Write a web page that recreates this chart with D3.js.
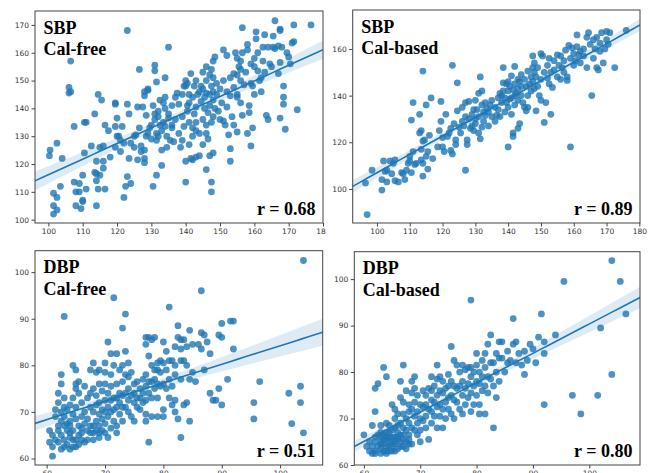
<!DOCTYPE html>
<html>
<head>
<meta charset="utf-8">
<script src="https://cdn.jsdelivr.net/npm/d3@7"></script>
<style>
  body { margin: 0; background: #fff; }
  svg { display: block; }
  .tick text { font-family: "DejaVu Sans", sans-serif; font-size: 7.5px; fill: #333; }
  .tick line { stroke: #444; }
  .label { font-family: "Liberation Serif", "Times New Roman", serif; font-weight: bold; font-size: 18px; fill: #000; }
</style>
</head>
<body>
<div id="chart"></div>
<script>
/**
 * DATA (reference BP on x, estimated BP on y)
 * */
const sbpFree = [
  [100.5,125],[100.3,123],[102.5,127.5],[101.5,109.5],[101.5,105],[101.5,102],[102.5,103.5],[102.5,108],[103.5,112],[104,122],
  [106,147.5],[106,145.5],[106.5,146],[106.5,157],[107.5,133.5],[107.5,113.5],[108,110],[108,105],[109,113],[109,110],
  [109.5,104],[110,107],[110,106.5],[110,116],[110.5,135],[111,135],[110.5,124],[111,111],[112.5,126.5],[113.5,138],
  [113.5,117],[114,114],[114,116.5],[114,121],[114,105],[114.5,145],[114.5,111],[115,116],[115,126],[115.5,143],
  [116,126.5],[116,121],[116,118.5],[116.5,111],[116.5,134],[117.5,132],[118,122.5],[119.5,142],[119.5,141.5],[119.5,126],
  [119.5,133.5],[120,136.5],[120,130],[120.5,130],[121,124.5],[121,128.5],[121.5,133.5],[122,108],[122,127.5],[122.5,112],
  [123,168],[123,141.5],[123,115.5],[123.5,138],[123.5,122],[124,127.5],[124,113],[125,130],[125,126],[125.5,130.5],
  [126,121.5],[126,140.5],[126.5,154],[126.5,133],[127,126.5],[127,124.5],[127.5,140.5],[128,144.5],[128,146],[128,122],
  [128,120.5],[128,125],[128.5,130],[128.5,137.5],[129,146.5],[129,131],[129,147],[129.5,133],[130,134],[130,129],
  [130.5,112],[130.5,141],[131,155.5],[131,153.5],[131,138],[131,136],[131.5,149.5],[131.5,116],[131.5,128.5],[131.5,131],
  [132,139],[132,137],[132,130],[132.5,143],[132.5,134],[133,119.5],[133,125],[133,132],[133.5,142],[133.5,135],
  [134,151],[134,144],[134,140],[134,133.5],[134.5,130],[134.5,126],[135,162],[135,138],[135,136.5],[135.5,128.5],
  [136,141],[136,133],[136,134],[136.5,128],[137,144],[137,136],[137.5,145.5],[138,141.5],[138,131],[138.5,126],
  [139,145],[139,137],[139,128.5],[139.5,148],[139.5,133.5],[140,150],[140,148],[140,121],[140,113.5],[140.5,149],
  [140.5,141],[140.5,139],[141,145],[141,142],[141,135],[141,127],[141.5,152.5],[141.5,122],[142,144],[142,133],
  [142,130],[142,121.5],[142.5,148],[142.5,138],[143,150],[143,140.5],[143,135],[143,132],[143,122.5],[143.5,145],
  [144,146],[144,131],[144,123],[144.5,148],[144.5,142.5],[145,153],[145,147],[145,136],[145,127],[145.5,144],
  [145.5,140],[146,155],[146,150],[146,145.5],[146,134],[146,131],[146,118],[146.5,138.5],[146.5,129],[147,152],
  [147,145],[147,141],[147,123],[147.5,154],[147.5,148],[147.5,135],[147.5,113.5],[147.5,110],[148,157],[148,151],
  [148,146],[148,143],[148,137],[148,124],[148.5,158.5],[148.5,140],[149,149],[149,145],[149.5,139],[150,147],
  [150,136],[150.5,142],[151,161],[151,135.5],[151.5,134],[152,146],[152,140.5],[152.5,130.5],[153,144.5],[153,125.5],
  [153,121],[153.5,137],[154,147.5],[154,134],[154.5,160],[155,158],[155,152],[155,145],[155,131.5],[155.5,155],
  [156,157],[156,154],[156,150],[156,142],[156.5,169],[156.5,160],[156.5,137.5],[157,148.5],[157.5,153],[158,163],
  [158,161],[158,131],[158.5,141],[158.5,138.5],[159,126.5],[159,149],[159,156],[159.5,133],[159.5,148],[160,158],
  [160,155],[160,145],[160.5,165],[160.5,167.5],[161,160],[161,153.5],[161.5,150],[162,151],[162,146],[162.5,162],
  [162.5,157],[163,166.5],[163,153],[163.5,137.5],[164,136],[164,162],[164.5,156],[165,155],[165.5,166],[165.5,162],
  [166,171.5],[166,161.5],[167,162.5],[167,152.5],[167.5,168.5],[167.5,168],[167.5,156.5],[167.5,136.5],[168,162],[168.5,148],
  [168.5,144],[168.5,141.5],[169,132.5],[169.5,160],[170,158.5],[170.5,156],[171,163.5],[171.5,164],[171.5,170],[172.5,139.5],
  [176.5,170],[152,159],[151,150],[153,151],[154,152.5],[155,144]
];

const sbpBased = [
  [97,89],[96.5,102.5],[98.5,108],[101.5,99.5],[101.5,104],[102,112],[102.5,107.5],[103,103],[103,108],[104,112],
  [104.5,106.5],[105,111],[105.5,103.5],[105.5,112.5],[106.5,103],[107.5,107],[108,106.5],[108.5,104],[109,108],[109.5,111],
  [110,114],[110,112],[110.5,107],[110.5,129.5],[111,137],[111,116],[111.5,110.5],[112,111],[113,124],[113,132],
  [113.5,125],[113.5,117],[113.5,112.5],[114,150.5],[114,120.5],[114,111],[114,105.5],[114.5,121],[115,136],[115,114],
  [115.5,108.5],[115.5,116],[116,123],[116.5,139],[117,113],[118.5,118],[119,125],[119.5,129],[119.5,137.5],[120,122],
  [120,118],[120.5,116],[121,132],[121.5,122.5],[122,124],[122.5,126],[122.5,116.5],[123,153],[123,115],[123.5,128],
  [124,121],[124,119],[124.5,133.5],[124.5,145.5],[125,126.5],[125.5,124],[126,129],[126,135],[126.5,127],[127,137],
  [127,131],[127,108],[127.5,121],[127.5,119],[128,137.5],[128,130],[128.5,126],[129,132],[129,127],[129.5,134],
  [129.5,125],[130,138],[130,130],[130,128],[130.5,134],[131,141],[131,131],[131,124],[131.5,148],[131.5,121.5],
  [132,142],[132,136],[132,126.5],[132.5,133],[132.5,129],[133,137],[133,131.5],[133.5,134.5],[134,133],[134,127],
  [134.5,136],[135,131],[135,138],[136,135],[136,129],[136.5,131.5],[137,139],[137,134],[137.5,141],[137.5,131],
  [138,140],[138,137],[138.5,145.5],[138.5,142],[138.5,152],[139,139],[139,133],[139.5,145],[139.5,137],[140,146],
  [140,142],[140,135],[140,118],[140.5,144],[140.5,138.5],[141,148.5],[141,139],[141,132],[141.5,142.5],[141.5,124],
  [141.5,122.5],[142,152.5],[142,145],[142,140],[142,136],[142.5,141],[143,147],[143,143],[143,138],[143,126],
  [143.5,146],[143.5,128],[144,149],[144,144],[144,140],[144.5,137],[145,147],[145,135],[145.5,144],[145.5,133.5],
  [146,150.5],[146,140],[146,135],[146.5,145],[147,148],[147,142],[147.5,157],[147.5,152],[147.5,146],[148,154],
  [148,150],[148,143],[148.5,148],[148.5,133.5],[149,152],[149,144],[149.5,140],[150,158],[150,147],[150,138],
  [150.5,157],[151,150],[151,128.5],[151.5,137],[152,153],[152,147.5],[152.5,156],[152.5,145],[153,132],[153,150],
  [153.5,143.5],[154,151],[154,155],[155,157.5],[155,148],[155.5,153],[156,147],[156,157],[156.5,152],[157,150],
  [157,155],[157.5,159.5],[158,148],[158,146.5],[158.5,161.5],[159,118],[159,156],[159.5,160.5],[160,158],[160,153],
  [160.5,155],[161,166],[161,161],[161.5,157.5],[162,154],[162,159],[163,160],[163,157],[164,165],[164,152],
  [164.5,167],[165,162],[165.5,140],[166,156],[166,164],[166.5,160],[167,165],[167,152],[167.5,151],[168,162.5],
  [168,159],[168.5,167],[169,154],[169.5,160],[170,164],[170,167.5],[170.5,162],[171,167],[172.5,152],[176,168]
];

const dbpFree = [
  [60.5,66],[60.5,63.5],[61,62.5],[61,60.5],[61.5,69],[61.5,70.5],[62,74],[62,66],[62,63.5],[62.5,78],
  [62.5,76],[62.5,70],[62.5,68],[62.5,65],[63,90.5],[63,73],[63,71],[63,69],[63,62.5],[63.5,66],
  [63.5,67.5],[63.5,70.5],[64,71.5],[64,68],[64,65.5],[64,64.5],[64.5,73],[64.5,69.5],[64.5,66],[64.5,80],
  [64.5,64],[65,79],[65,76],[65,75],[65,71],[65,68.5],[65,62.5],[65.5,76.5],[65.5,74],[65.5,67],
  [65.5,65],[66,72],[66,69],[66,66.5],[66,64],[66.5,75.5],[66.5,70],[66.5,63.5],[67,73],[67,68.5],
  [67,66],[67.5,79],[67.5,71],[67.5,65.5],[67.5,74],[68,80.5],[68,75],[68,70],[68,67],[68,65.5],
  [68.5,78.5],[68.5,73.5],[68.5,71.5],[68.5,68],[69,79],[69,76],[69,72],[69,69.5],[69,67],[69,64.5],
  [69.5,74.5],[69.5,70.5],[69.5,68.5],[69.5,66],[70,80.5],[70,78.5],[70,76],[70,72.5],[70,70],[70,67.5],
  [70,65.5],[70.5,85],[70.5,74],[70.5,71],[70.5,69],[70.5,64.5],[71,82.5],[71,78],[71,75.5],[71,72.5],
  [71,70],[71,66.5],[71.5,94.5],[71.5,80],[71.5,73],[71.5,70.5],[71.5,68],[72,82.5],[72,76],[72,73],
  [72,71],[72,67],[72,65.5],[72.5,79],[72.5,74],[72.5,72],[72.5,69.5],[73,88],[73,80],[73,76.5],
  [73,73.5],[73,71],[73,68],[73.5,91],[73.5,83],[73.5,78],[73.5,74],[73.5,71],[74,80.5],[74,77.5],
  [74,75],[74,72.5],[74,70],[74.5,78.5],[74.5,73.5],[74.5,69],[75,76],[75,74],[75,72],[75,68],
  [75.5,76.5],[75.5,73],[75.5,71],[76,75],[76,73],[76,70.5],[76.5,77],[76.5,74],[76.5,72],[77,86],
  [77,84.5],[77,78],[77,75.5],[77,72.5],[77,69.5],[77,68],[77.5,86],[77.5,82],[77.5,76.5],[77.5,74],
  [77.5,63.5],[78,85.5],[78,80],[78,76.5],[78,73],[78,69],[78.5,86],[78.5,79],[78.5,77],[78.5,75],
  [79,80.5],[79,79],[79,76],[79,73],[79,69],[79.5,81],[79.5,78.5],[79.5,75.5],[80,85],[80,80.5],
  [80,76],[80,70.5],[80,69],[80.5,83],[80.5,79],[80.5,75],[81,92.5],[81,81],[81,77],[81,73],
  [81.5,81],[81.5,75.5],[81.5,71.5],[82,84],[82,80],[82,78],[82,72.5],[82,70],[82.5,88.5],[82.5,86],
  [82.5,68.5],[83,85.5],[83,83.5],[83,81],[83,77],[83,64.5],[83.5,85.5],[83.5,81],[83.5,71.5],[84,84],
  [84,80],[84,72],[84.5,87.5],[84.5,77],[84.5,68],[85,84.5],[85,78.5],[85.5,76.5],[86,84.5],[86.5,87],
  [86.5,96],[86.5,83.5],[87,79],[87,86.5],[87.5,85],[88,82.5],[88,74],[88.5,72.5],[89,72.5],[89.5,75],
  [89.5,86.5],[90,89],[90,86],[90,71.5],[91,77],[91.5,89.5],[92,83.5],[92,89.5],[95.5,72],[95.5,68.5],
  [96.5,76.5],[101.5,74],[102,67.5],[103.5,75.5],[103.5,72],[104,65.5],[104,102.5],
  [61,65],[61.5,64],[62,67],[62.5,62],[63,64],[63,67],[63.5,63],[64,62],[64,67],[64.5,62.5],
  [65,64],[65.5,63],[66,65.5],[66.5,67.5],[67,64],[67.5,67],[68,64],[68.5,66],[69,65.5],[62,72]
];

const dbpBased = [
  [60,66.5],[60.5,64],[61,63],[61,65],[61.5,62.5],[61.5,68.5],[62,76.5],[62,71.5],[62,66],[62.5,64],
  [62.5,77.5],[63,65],[63,63.5],[63,68.5],[63.5,81],[63.5,66.5],[63.5,64.5],[64,79],[64,69],[64,67],
  [64,65.5],[64,63],[64.5,68.5],[64.5,66],[64.5,64],[65,73],[65,67.5],[65,65],[65,63],[65.5,72],
  [65.5,70],[65.5,68],[65.5,66],[65.5,64.5],[66,71],[66,67],[66,65.5],[66.5,78],[66.5,74.5],[66.5,69],
  [66.5,66.5],[66.5,64],[67,81.5],[67,73.5],[67,71],[67,68],[67,65.5],[67.5,76],[67.5,70],[67.5,67.5],
  [67.5,65],[68,73],[68,71.5],[68,69],[68,66.5],[68.5,78],[68.5,75.5],[68.5,72],[68.5,68],[68.5,64.5],
  [69,79],[69,76.5],[69,73.5],[69,70.5],[69,67.5],[69.5,75],[69.5,71.5],[69.5,69],[69.5,66.5],[70,73],
  [70,70],[70,67.5],[70,65],[70.5,76],[70.5,72.5],[70.5,69.5],[71,75],[71,73],[71,70.5],[71,68],
  [71.5,76.5],[71.5,72],[71.5,65.5],[72,79],[72,76],[72,74],[72,71.5],[72,69],[72.5,77],[72.5,73.5],
  [72.5,70.5],[73,81.5],[73,78.5],[73,75],[73,72.5],[73,68],[73.5,79],[73.5,76],[73.5,73],[73.5,70.5],
  [74,78],[74,75.5],[74,72],[74,68],[74.5,76.5],[74.5,73.5],[74.5,70],[75,79.5],[75,77],[75,74.5],
  [75,72],[75.5,85.5],[75.5,78],[75.5,75],[75.5,71],[76,82.5],[76,77],[76,74],[76,70],[76.5,81.5],
  [76.5,76.5],[76.5,73.5],[77,80],[77,77],[77,72],[77.5,81.5],[77.5,78],[77.5,75],[77.5,71],[78,80.5],
  [78,76.5],[78,73],[78.5,81],[78.5,77.5],[78.5,74.5],[79,95.5],[79,81],[79,79],[79,75.5],[79,71.5],
  [79.5,80],[79.5,77],[79.5,73],[80,84],[80,81.5],[80,78],[80,75],[80.5,80],[80.5,77.5],[80.5,73],
  [80.5,71],[81,82.5],[81,79],[81,76],[81.5,84],[81.5,81],[81.5,77],[81.5,71],[82,79],[82,75.5],
  [82,86],[82.5,88],[82.5,82],[82.5,78.5],[83,82],[83,77],[83,68],[83.5,84],[83.5,80],[83.5,74.5],
  [84,86.5],[84,83],[84,78],[84.5,86.5],[84.5,83],[85,80],[85.5,84.5],[85.5,82],[86,82.5],[86.5,91.5],
  [86.5,86],[87,86.5],[87,82],[87.5,84],[88,81.5],[88.5,84.5],[88.5,79.5],[89,82.5],[89.5,86],[90,85],
  [90.5,82],[91,87.5],[91.5,92.5],[92,86.5],[92,84],[92,73],[94,88],[95.5,99.5],[97,75],[98.5,71],
  [101.5,75],[102,89.5],[104,104],[104,79.5],[105.5,99.5],[106.5,92.5],
  [61.5,64],[62,63],[62,65],[62.5,66.5],[63,62.5],[63,64.5],[63,66],[63.5,63],[63.5,65.5],[64,62.5],
  [64,64],[64,66],[64.5,63],[64.5,65],[65,64],[65,66],[65.5,63],[65.5,65],[66,63.5],[66,66],
  [66.5,65],[67,64],[67,66.5],[67.5,63.5],[68,64.5],[68,65.5],[66,68.5],[64.5,67],[63,67],[62,62.5]
];

const panelNames = [["SBP", "Cal-free"], ["SBP", "Cal-based"], ["DBP", "Cal-free"], ["DBP", "Cal-based"]];
const rLabels = ["r = 0.68", "r = 0.89", "r = 0.51", "r = 0.80"];
const xTicks = [d3.range(100, 181, 10), d3.range(100, 181, 10), d3.range(60, 101, 10), d3.range(60, 101, 10)];
const yTicks = [d3.range(100, 171, 10), d3.range(100, 161, 20), d3.range(60, 101, 10), d3.range(60, 101, 10)];
const xDomains = [[96.1, 180], [92.6, 180.2], [58, 107.3], [58.3, 109]];
const yDomains = [[98.8, 175], [85.4, 176.7], [58.6, 104.6], [60, 105.9]];

// where each sub-picture sits on the page (plot frame, px)
const frames = [
  { x0: 35, x1: 323, y0: 11, y1: 223, clip: [0, 0, 326, 240] },
  { x0: 352.7, x1: 640, y0: 10, y1: 223, clip: [326, 0, 330, 240] },
  { x0: 35, x1: 322.7, y0: 250.7, y1: 465, clip: [0, 240, 326, 233] },
  { x0: 354.3, x1: 640, y0: 251.7, y1: 465, clip: [326, 240, 330, 233] }
];

const datasets = [sbpFree, sbpBased, dbpFree, dbpBased];
const blue = "#1f77b4";

const svg = d3.select("#chart").append("svg").attr("width", 656).attr("height", 473);
const defs = svg.append("defs");

// simple least squares fit + 95% band, like seaborn regplot
function fit(data) {
  const n = data.length;
  const mx = d3.mean(data, d => d[0]), my = d3.mean(data, d => d[1]);
  const sxx = d3.sum(data, d => (d[0] - mx) ** 2);
  const sxy = d3.sum(data, d => (d[0] - mx) * (d[1] - my));
  const b = sxy / sxx, a = my - b * mx;
  const s = Math.sqrt(d3.sum(data, d => (d[1] - a - b * d[0]) ** 2) / (n - 2));
  return x => {
    const yh = a + b * x;
    const se = 1.96 * s * Math.sqrt(1 / n + (x - mx) ** 2 / sxx);
    return { x, y: yh, lo: yh - se, hi: yh + se };
  };
}

datasets.forEach((data, i) => {
  const f = frames[i];
  const x = d3.scaleLinear().domain(xDomains[i]).range([f.x0, f.x1]);
  const y = d3.scaleLinear().domain(yDomains[i]).range([f.y1, f.y0]);

  defs.append("clipPath").attr("id", "panel" + i).append("rect")
    .attr("x", f.clip[0]).attr("y", f.clip[1]).attr("width", f.clip[2]).attr("height", f.clip[3]);
  defs.append("clipPath").attr("id", "plot" + i).append("rect")
    .attr("x", f.x0).attr("y", f.y0).attr("width", f.x1 - f.x0).attr("height", f.y1 - f.y0);

  const g = svg.append("g").attr("clip-path", `url(#panel${i})`);
  const plot = g.append("g").attr("clip-path", `url(#plot${i})`);

  const line = fit(data);
  const steps = d3.range(0, 41).map(k => xDomains[i][0] + (xDomains[i][1] - xDomains[i][0]) * k / 40);
  const fitted = steps.map(line);

  plot.append("path")
    .datum(fitted)
    .attr("fill", blue).attr("fill-opacity", 0.15)
    .attr("d", d3.area().x(d => x(d.x)).y0(d => y(d.lo)).y1(d => y(d.hi)));

  plot.selectAll("circle")
    .data(data)
    .join("circle")
    .attr("cx", d => x(d[0]))
    .attr("cy", d => y(d[1]))
    .attr("r", 3.4)
    .attr("fill", blue)
    .attr("fill-opacity", 0.8);

  plot.append("path")
    .datum(fitted)
    .attr("fill", "none").attr("stroke", blue).attr("stroke-width", 1.6)
    .attr("d", d3.line().x(d => x(d.x)).y(d => y(d.y)));

  // axes
  const xa = g.append("g").attr("transform", `translate(0,${f.y1})`)
    .call(d3.axisBottom(x).tickValues(xTicks[i]).tickSize(3.5).tickPadding(2.5));
  const ya = g.append("g").attr("transform", `translate(${f.x0},0)`)
    .call(d3.axisLeft(y).tickValues(yTicks[i]).tickSize(3.5).tickPadding(2.5));
  [xa, ya].forEach(a => a.select(".domain").remove());

  g.append("rect")
    .attr("x", f.x0).attr("y", f.y0)
    .attr("width", f.x1 - f.x0).attr("height", f.y1 - f.y0)
    .attr("fill", "none").attr("stroke", "#444").attr("stroke-width", 1);

  // labels
  const t = g.append("text").attr("class", "label").attr("x", f.x0 + 8.5).attr("y", f.y0 + 22.5);
  t.append("tspan").attr("x", f.x0 + 8.5).text(panelNames[i][0]);
  t.append("tspan").attr("x", f.x0 + 8.5).attr("dy", 21.5).text(panelNames[i][1]);

  g.append("text").attr("class", "label")
    .attr("x", f.x1 - 7.5).attr("y", f.y1 - 8.5)
    .attr("text-anchor", "end")
    .text(rLabels[i]);
});
</script>
</body>
</html>
